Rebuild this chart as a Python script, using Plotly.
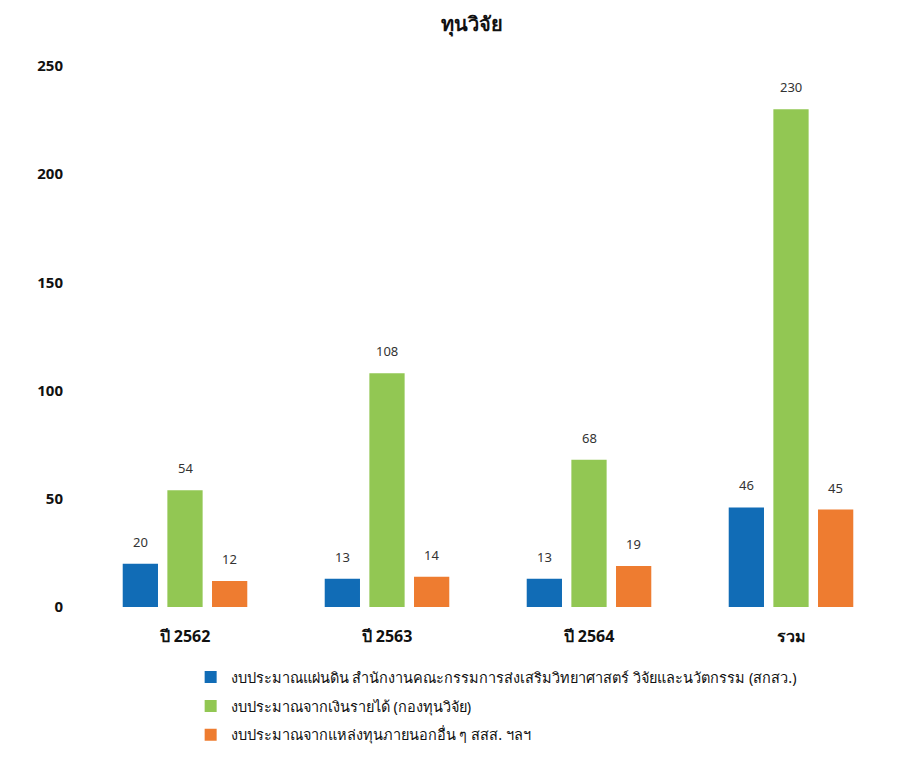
import plotly.graph_objects as go

categories = ["ปี 2562", "ปี 2563", "ปี 2564", "รวม"]
series_names = [
    "งบประมาณแผ่นดิน สำนักงานคณะกรรมการส่งเสริมวิทยาศาสตร์ วิจัยและนวัตกรรม (สกสว.)",
    "งบประมาณจากเงินรายได้ (กองทุนวิจัย)",
    "งบประมาณจากแหล่งทุนภายนอกอื่น ๆ สสส. ฯลฯ",
]
blue_values = [20, 13, 13, 46]
green_values = [54, 108, 68, 230]
orange_values = [12, 14, 19, 45]
colors = ["#116CB6", "#92C753", "#EE7C30"]
y_ticks = [0, 50, 100, 150, 200, 250]

FONT = "Tahoma, 'Noto Sans', 'DejaVu Sans', sans-serif"
SLOT_PX = 44.5  # horizontal distance between bar centres within a group

fig = go.Figure()
all_series = [blue_values, green_values, orange_values]
for i, (name, vals) in enumerate(zip(series_names, all_series)):
    fig.add_trace(go.Bar(
        x=categories, y=vals, name=name,
        marker=dict(color=colors[i], line=dict(width=0)),
        legendgroup=f"g{i}",
    ))
    for cat, v in zip(categories, vals):
        fig.add_annotation(
            x=cat, y=v, text=str(v), showarrow=False,
            xshift=(i - 1) * SLOT_PX, yshift=22, yanchor="middle",
            font=dict(size=13, color="#333333", family=FONT),
        )

fig.update_layout(
    width=918, height=763,
    margin=dict(l=76, r=34, t=58, b=164, autoexpand=False),
    paper_bgcolor="white", plot_bgcolor="white",
    barmode="group", bargap=0.337, bargroupgap=0.21,
    title=dict(text="<b>ทุนวิจัย</b>", x=464/918, xanchor="center", y=1-16/763, yanchor="middle",
               font=dict(size=20, color="#111111", family=FONT)),
    font=dict(family=FONT, color="#111111"),
    xaxis=dict(showline=False, ticks="", automargin=False, ticklabelstandoff=18,
               tickfont=dict(size=16, color="#111111", weight="bold")),
    yaxis=dict(range=[0, 250], tickvals=y_ticks, showgrid=False, zeroline=False, showline=False,
               automargin=False, tickfont=dict(size=15, color="#111111", weight="bold"),
               ticklabelstandoff=20),
    legend=dict(x=0.132, y=-0.1, xanchor="left", yanchor="top", orientation="v",
                font=dict(size=14.5, color="#111111"), tracegroupgap=7),
    showlegend=True,
)
fig.write_html("out.html")
